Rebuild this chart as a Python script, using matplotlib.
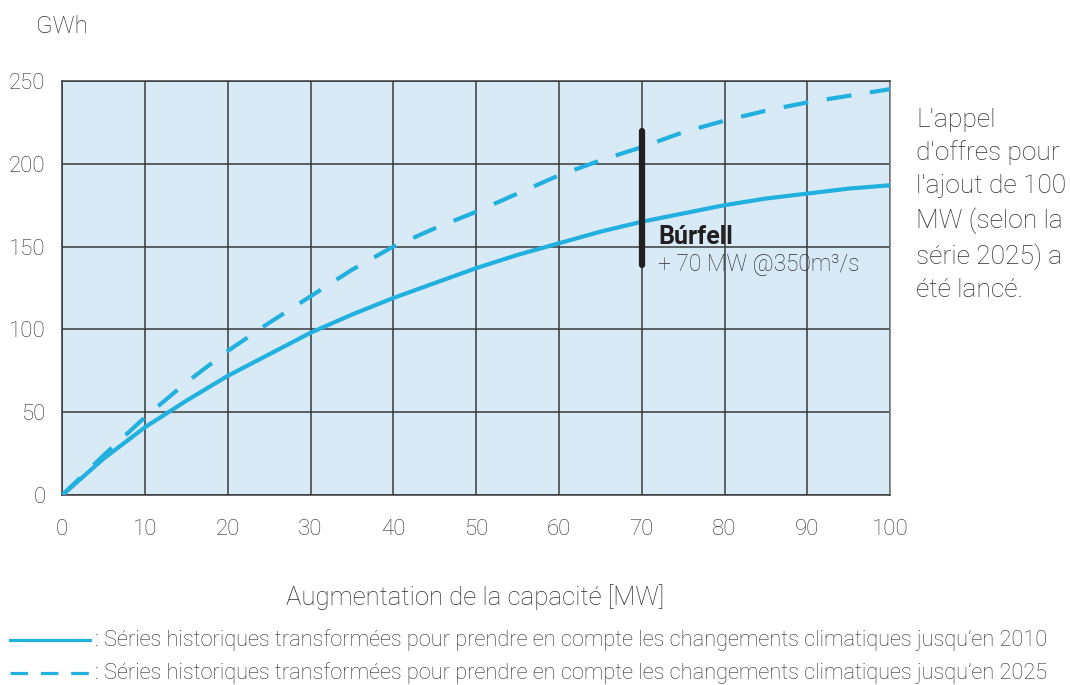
import matplotlib
matplotlib.use('Agg')
import matplotlib.pyplot as plt
import numpy as np

matplotlib.rcParams['font.family'] = ['Roboto', 'DejaVu Sans']
matplotlib.rcParams['font.weight'] = 'light'

# data
capacity = [0, 5, 10, 15, 20, 25, 30, 35, 40, 45, 50, 55, 60, 65, 70, 75, 80, 85, 90, 95, 100]
gwh_2010 = [0, 22, 41, 57, 72, 85, 98, 109, 119, 128, 137, 145, 152, 159, 165, 170, 175, 179, 182, 185, 187]
gwh_2025 = [0, 24, 47, 68, 87, 104, 120, 136, 150, 161, 171, 182, 193, 202, 210, 219, 226, 232, 237, 241, 245]
burfell_x = 70
burfell_range = [139, 220]

xticks = np.arange(0, 101, 10)
yticks = np.arange(0, 251, 50)

line_col = '#22b0de'
grid_col = '#3a3a3a'
txt_col = '#2e2e2e'

fig = plt.figure(figsize=(10.7, 6.85), dpi=100)
ax = fig.add_axes([0.058, 0.277, 0.774, 0.605])
ax.set_facecolor('#d7eaf5')

ax.plot(capacity, gwh_2010, color=line_col, lw=3, solid_capstyle='butt', zorder=3)
ax.plot(capacity, gwh_2025, color=line_col, lw=3, dashes=(6, 4.5), zorder=3)
ax.plot([burfell_x, burfell_x], burfell_range, color='#231f20', lw=4.5,
        solid_capstyle='round', zorder=4)

ax.text(72, 156, 'Búrfell', fontsize=18, fontweight='bold', color='#231f20',
        va='center', ha='left', zorder=5)
ax.text(72, 139, '+ 70 MW @350m³/s', fontsize=16.4, color=txt_col,
        va='center', ha='left', zorder=5)

ax.set_xlim(0, 100)
ax.set_ylim(0, 250)
ax.set_xticks(xticks)
ax.set_yticks(yticks)
ax.grid(True, color=grid_col, lw=1.1)
ax.set_axisbelow(True)
ax.tick_params(length=0, labelsize=16, colors=txt_col)
ax.tick_params(axis='x', pad=17)
ax.tick_params(axis='y', pad=12)
for s in ax.spines.values():
    s.set_color(grid_col)
    s.set_linewidth(1.1)
ax.spines['right'].set_color('#777777')

fig.text(0.034, 0.962, 'GWh', fontsize=17.5, color=txt_col, va='center', ha='left')
fig.text(0.444, 0.128, 'Augmentation de la capacité [MW]', fontsize=18.5,
         color=txt_col, ha='center', va='center')
fig.text(0.856, 0.843, "L'appel\nd'offres pour\nl'ajout de 100\nMW (selon la\nsérie 2025) a\nété lancé.",
         fontsize=19, color=txt_col, ha='left', va='top', linespacing=1.45)

# legend drawn by hand under the plot
fig.add_artist(plt.Line2D([0.009, 0.084], [0.066, 0.066], color=line_col, lw=2.3,
                          transform=fig.transFigure))
fig.add_artist(plt.Line2D([0.009, 0.084], [0.018, 0.018], color=line_col, lw=2.3,
                          dashes=(5.5, 4), transform=fig.transFigure))
fig.text(0.089, 0.066, ': Séries historiques transformées pour prendre en compte les changements climatiques jusqu\u2019en 2010',
         fontsize=15.7, color=txt_col, va='center', ha='left')
fig.text(0.089, 0.018, ': Séries historiques transformées pour prendre en compte les changements climatiques jusqu\u2019en 2025',
         fontsize=15.7, color=txt_col, va='center', ha='left')

fig.savefig('out.png', dpi=100)
